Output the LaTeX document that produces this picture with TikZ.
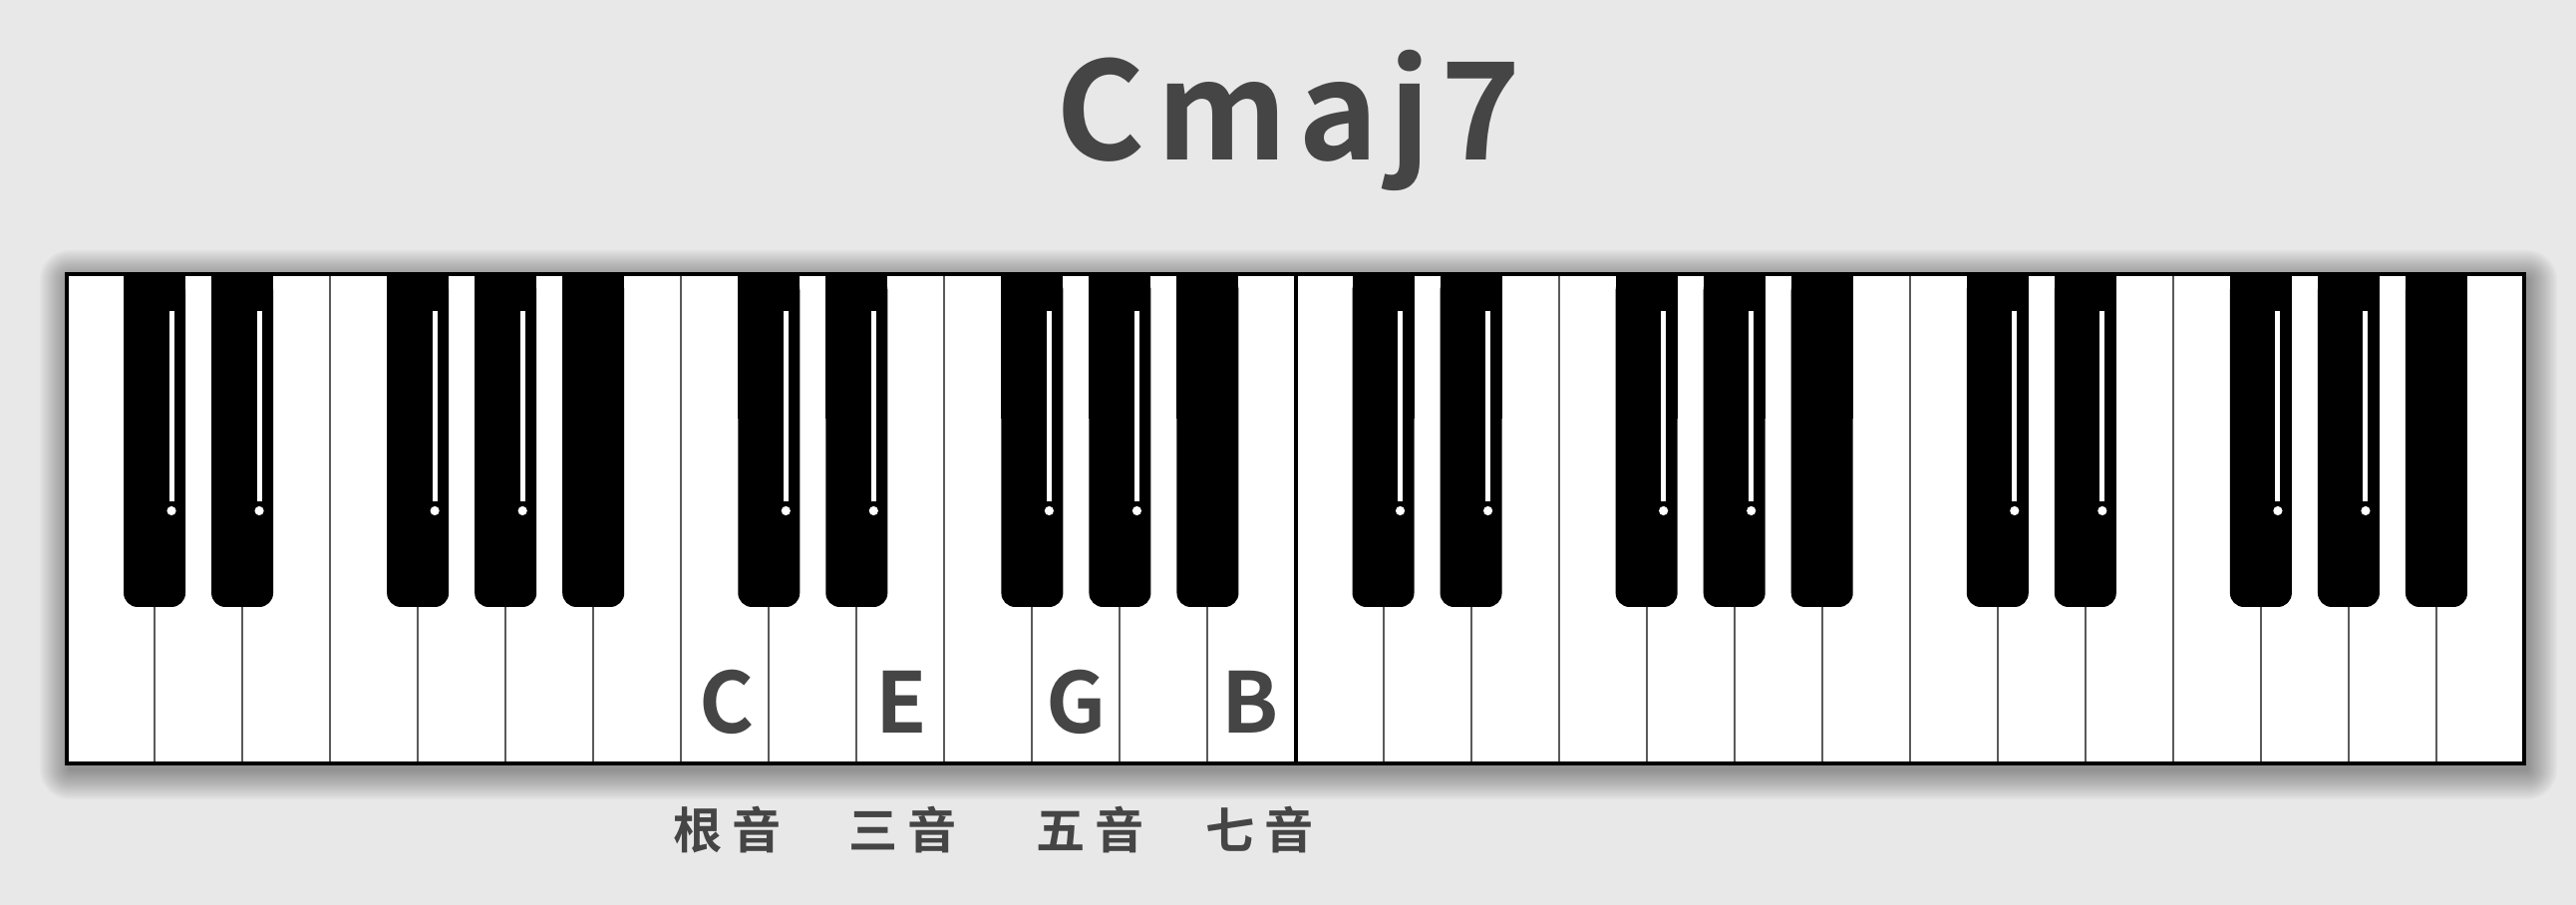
\documentclass[tikz,border=0pt]{standalone}
\usepackage{fontspec}
\setmainfont{Noto Sans CJK SC}[BoldFont={* Bold}]
\definecolor{bg}{HTML}{E8E8E8}
\definecolor{ink}{HTML}{454545}
\definecolor{divider}{HTML}{5A5A5A}
\tikzset{
  titletext/.style={anchor=base, inner sep=0pt, text=ink, font=\fontsize{34pt}{34pt}\selectfont\bfseries\addfontfeature{LetterSpace=8}},
  notetext/.style={anchor=base, inner sep=0pt, text=ink, font=\fontsize{21pt}{21pt}\selectfont\bfseries},
  roletext/.style={anchor=center, inner sep=0pt, text=ink, font=\fontsize{12.3pt}{12.3pt}\selectfont\bfseries},
  divline/.style={draw=divider, line width=0.5pt},
  midline/.style={draw=black, line width=1pt},
  blackkey/.style={fill=black},
  gleam/.style={fill=white},
  shadowlayer/.style={fill=black, fill opacity=0.028},
}
\newcommand{\kw}{88.0357}
\begin{document}
\begin{tikzpicture}[x=0.25pt,y=-0.25pt]
\fill[bg] (0,0) rectangle (2584,908);
\useasboundingbox (0,0) rectangle (2584,908);
% soft shadow
\foreach \k in {0,...,14}{
  \pgfmathsetmacro{\e}{30-2*\k}
  \fill[shadowlayer, rounded corners=\e*0.25pt] (67+3-\e,275+6-\e) rectangle (2532+3+\e,766+6+\e);
}
% keyboard body
\fill[white] (67,275) rectangle (2532,766);
% white key dividers
\foreach \i in {1,...,27}{
  \pgfmathsetmacro{\xx}{67+\i*\kw}
  \ifnum\i=14
    \draw[midline] (\xx,275) -- (\xx,766);
  \else
    \draw[divline] (\xx,275) -- (\xx,766);
  \fi
}
% black keys
\foreach \o in {0,1,2,3}{
  \foreach \b in {1,2,4,5,6}{
    \pgfmathsetmacro{\cx}{67+(7*\o+\b)*\kw}
    \fill[blackkey, rounded corners=3.5pt] (\cx-31,277) rectangle (\cx+31,609);
    \fill[blackkey] (\cx-31,277) rectangle (\cx+31,420);
  }
  \foreach \b in {1,2,4,5}{
    \pgfmathsetmacro{\cx}{67+(7*\o+\b)*\kw}
    \fill[gleam] (\cx+14.5,312) rectangle (\cx+19.5,503);
    \fill[gleam] (\cx+17,512.5) circle[radius=1.15pt];
  }
}
% border
\draw[line width=1pt] (67,275) rectangle (2532,766);
% texts
\node[titletext] (title) at (1293,161) {Cmaj7};
\node[notetext] (nC) at (729,736) {C};
\node[notetext] (nE) at (904,736) {E};
\node[notetext] (nG) at (1080,736) {G};
\node[notetext] (nB) at (1254,736) {B};
\node[roletext] (rC) at (730,833) {根\hspace{2.5pt}音};
\node[roletext] (rE) at (906,833) {三\hspace{2.5pt}音};
\node[roletext] (rG) at (1094,833) {五\hspace{2.5pt}音};
\node[roletext] (rB) at (1264,833) {七\hspace{2.5pt}音};
\end{tikzpicture}
\end{document}
